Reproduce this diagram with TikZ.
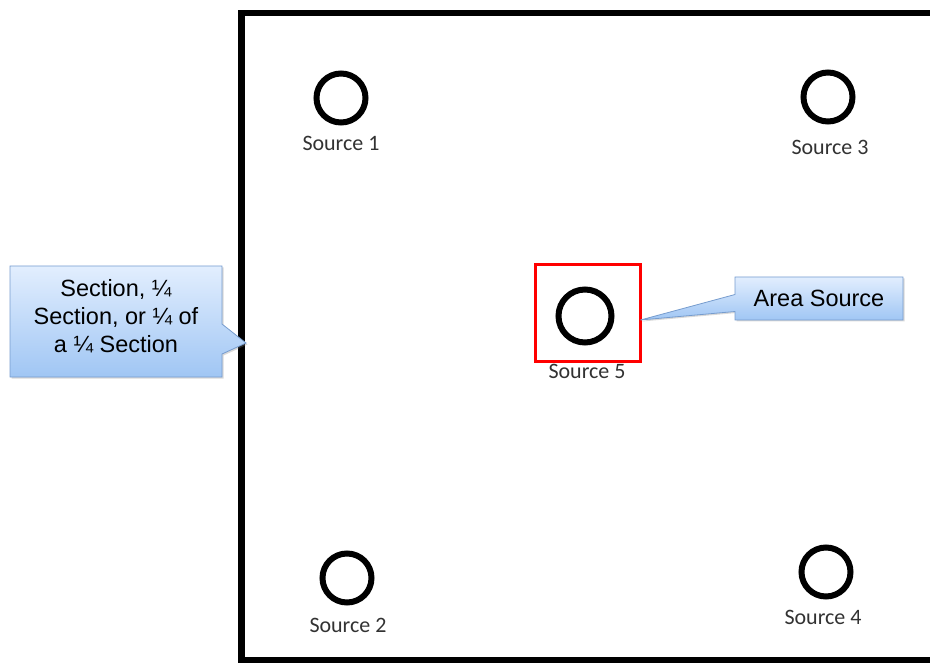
\documentclass[tikz,border=0pt]{standalone}
\usepackage{fontspec}
\setmainfont{Liberation Sans}
\newfontfamily\srcfont{Carlito}
\usetikzlibrary{shapes.callouts,shadows}

\definecolor{calltop}{RGB}{226,238,254}
\definecolor{callbot}{RGB}{160,198,244}
\definecolor{callline}{RGB}{118,156,206}
\definecolor{labelgray}{RGB}{50,50,50}

\tikzset{
  src/.style={circle,draw=black,line width=6pt,minimum size=49pt,inner sep=0pt},
  srclabel/.style={font=\srcfont\fontsize{22}{26}\selectfont,text=labelgray},
  notetext/.style={align=center,font=\fontsize{23.5}{28}\selectfont},
  note/.style={rectangle callout,draw=callline,line width=0.8pt,
    top color=calltop,bottom color=callbot,notetext,inner sep=0pt,
    drop shadow={shadow xshift=1.5pt,shadow yshift=-1.5pt,opacity=.3}}
}

\begin{document}
\begin{tikzpicture}[x=1pt,y=-1pt]
\useasboundingbox (0,0) rectangle (930,663);

% section boundary (right side runs off)
\draw[line width=6.5pt] (930,13) -- (241.5,13) -- (241.5,660) -- (930,660);

% point sources
\node[src] (s1) at (341,98) {};
\node[srclabel] (l1) at (341,143) {Source 1};
\node[src] (s2) at (347,578) {};
\node[srclabel] (l2) at (348,625) {Source 2};
\node[src] (s3) at (828,97) {};
\node[srclabel] (l3) at (830,147) {Source 3};
\node[src] (s4) at (826,572) {};
\node[srclabel] (l4) at (823,617) {Source 4};

% source 5 with its area box
\node[src,minimum size=53pt] (s5) at (585,316) {};
\node[srclabel] (l5) at (587,371) {Source 5};
\node[draw=red,line width=3pt,minimum width=105pt,minimum height=97pt] (box5) at (587.5,313.5) {};

% callouts
\coordinate (tip5) at (640.5,320);
\coordinate (edge) at (246,343);
\node[note,minimum width=168pt,minimum height=43pt,
  callout absolute pointer=(tip5),callout pointer width=17pt] (area) at (819,298.5) {Area Source};
\node[note,minimum width=212pt,minimum height=111pt,
  callout absolute pointer=(edge),callout pointer width=30pt] (sect) at (116,321.5) {};
\node[notetext] (secttext) at (116,316)
  {Section, \char"00BC\\Section, or \char"00BC{} of\\a \char"00BC{} Section};
\end{tikzpicture}
\end{document}
